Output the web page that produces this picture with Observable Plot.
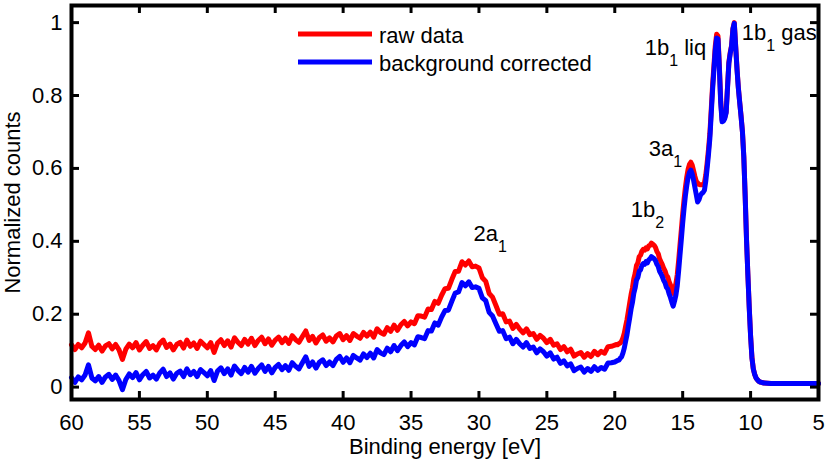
<!DOCTYPE html>
<html>
<head>
<meta charset="utf-8">
<script src="https://cdn.jsdelivr.net/npm/d3@7"></script>
<script src="https://cdn.jsdelivr.net/npm/@observablehq/plot@0.6"></script>
<style>
  html, body { margin: 0; padding: 0; background: white; }
  #wrap { position: relative; width: 825px; height: 462px; }
  #legend { position: absolute; left: 0; top: 0; pointer-events: none; }
</style>
</head>
<body>
<div id="wrap"></div>
<script>
// ---- Data ----
// Segment 1: 60 eV down to 20 eV, sampled every 0.25 eV
const rawSeg1 = [
0.116,0.103,0.117,0.108,0.121,0.149,0.112,0.103,0.115,0.099,
0.113,0.119,0.105,0.117,0.102,0.076,0.104,0.118,0.108,0.122,
0.102,0.115,0.125,0.106,0.114,0.102,0.120,0.129,0.109,0.118,
0.102,0.117,0.123,0.107,0.129,0.112,0.121,0.106,0.126,0.117,
0.108,0.122,0.095,0.121,0.130,0.114,0.127,0.110,0.135,0.123,
0.114,0.131,0.118,0.134,0.114,0.128,0.137,0.119,0.132,0.115,
0.129,0.137,0.122,0.134,0.120,0.141,0.130,0.123,0.139,0.154,
0.128,0.139,0.121,0.136,0.143,0.126,0.135,0.124,0.140,0.147,
0.130,0.141,0.128,0.147,0.140,0.134,0.150,0.140,0.151,0.137,
0.160,0.150,0.145,0.163,0.153,0.170,0.156,0.171,0.180,0.168,
0.179,0.174,0.196,0.195,0.192,0.214,0.213,0.235,0.230,0.252,
0.270,0.271,0.295,0.317,0.318,0.344,0.335,0.346,0.330,0.332,
0.327,0.300,0.290,0.257,0.247,0.224,0.200,0.201,0.179,0.181,
0.161,0.172,0.159,0.149,0.160,0.144,0.147,0.131,0.142,0.134,
0.122,0.131,0.115,0.119,0.103,0.111,0.097,0.104,0.085,0.091,
0.095,0.082,0.092,0.084,0.098,0.089,0.098,0.093,0.111,0.112,
0.115];
const corrSeg1 = [
0.026,0.013,0.028,0.020,0.033,0.061,0.025,0.017,0.029,0.013,
0.028,0.035,0.021,0.033,0.018,-0.007,0.021,0.036,0.026,0.040,
0.020,0.034,0.043,0.025,0.033,0.022,0.039,0.049,0.029,0.039,
0.022,0.038,0.044,0.029,0.050,0.034,0.043,0.029,0.048,0.040,
0.031,0.045,0.018,0.044,0.053,0.037,0.050,0.033,0.058,0.046,
0.037,0.054,0.041,0.057,0.038,0.051,0.061,0.043,0.057,0.039,
0.054,0.062,0.048,0.059,0.046,0.067,0.057,0.050,0.067,0.083,
0.057,0.069,0.052,0.068,0.075,0.059,0.069,0.059,0.076,0.084,
0.068,0.080,0.067,0.087,0.080,0.074,0.091,0.081,0.093,0.080,
0.103,0.094,0.089,0.107,0.097,0.114,0.100,0.114,0.124,0.111,
0.122,0.116,0.138,0.136,0.133,0.155,0.154,0.176,0.170,0.192,
0.210,0.211,0.235,0.258,0.261,0.287,0.278,0.289,0.273,0.275,
0.271,0.245,0.237,0.205,0.195,0.174,0.153,0.155,0.133,0.137,
0.119,0.131,0.119,0.110,0.122,0.106,0.110,0.094,0.105,0.097,
0.085,0.094,0.077,0.082,0.065,0.072,0.058,0.064,0.045,0.051,
0.055,0.041,0.051,0.043,0.056,0.046,0.054,0.049,0.066,0.067,
0.069];
// Segment 2: 19.9 eV down to 9.0 eV, sampled every 0.1 eV
const rawSeg2 = [
0.117,0.116,0.119,0.121,0.126,0.135,0.148,0.167,0.185,0.208,
0.231,0.254,0.272,0.297,0.312,0.334,0.341,0.358,0.362,0.373,
0.378,0.376,0.382,0.379,0.387,0.389,0.395,0.392,0.389,0.383,
0.372,0.366,0.352,0.344,0.336,0.326,0.319,0.307,0.302,0.289,
0.280,0.267,0.257,0.270,0.284,0.308,0.346,0.389,0.431,0.475,
0.514,0.548,0.576,0.598,0.611,0.617,0.609,0.594,0.578,0.565,
0.560,0.556,0.555,0.555,0.556,0.560,0.582,0.615,0.652,0.695,
0.760,0.827,0.881,0.936,0.968,0.963,0.882,0.786,0.733,0.734,
0.740,0.755,0.823,0.891,0.918,0.937,0.984,1.000,0.937,0.874,
0.821,0.781,0.743,0.701,0.633,0.526,0.406,0.309,0.219,0.141,
0.081,0.050,0.035,0.025,0.020,0.016,0.014,0.013,0.012,0.011];
const corrSeg2 = [
0.071,0.073,0.074,0.079,0.083,0.093,0.107,0.126,0.144,0.168,
0.190,0.214,0.232,0.257,0.272,0.294,0.301,0.318,0.322,0.334,
0.339,0.337,0.344,0.341,0.349,0.352,0.358,0.355,0.352,0.347,
0.337,0.331,0.318,0.311,0.303,0.293,0.286,0.274,0.269,0.256,
0.246,0.233,0.222,0.236,0.252,0.278,0.318,0.362,0.405,0.450,
0.490,0.525,0.553,0.576,0.589,0.595,0.585,0.568,0.548,0.528,
0.508,0.514,0.526,0.531,0.534,0.540,0.565,0.600,0.638,0.682,
0.748,0.815,0.870,0.925,0.958,0.955,0.875,0.780,0.728,0.730,
0.737,0.752,0.820,0.888,0.915,0.935,0.982,0.998,0.935,0.872,
0.820,0.780,0.742,0.700,0.632,0.525,0.405,0.308,0.218,0.140,
0.080,0.050,0.035,0.025,0.020,0.016,0.014,0.013,0.012,0.011];
// Segment 3: flat tail
const tailEnergy = [8.5, 8, 7, 6, 5];
const rawTail = [0.010, 0.010, 0.010, 0.010, 0.010];
const corrTail = [0.010, 0.010, 0.010, 0.010, 0.010];

const xTicks = [60, 55, 50, 45, 40, 35, 30, 25, 20, 15, 10, 5];
const yTicks = [0, 0.2, 0.4, 0.6, 0.8, 1];
const seriesNames = ["raw data", "background corrected"];
const seriesColors = ["#ff0000", "#0000ff"];
const annotations = [
  {E: 30.4, v: 0.401, label: "2a_1"},
  {E: 18.83, v: 0.466, label: "1b_2"},
  {E: 17.5, v: 0.633, label: "3a_1"},
  {E: 17.8, v: 0.912, label: "1b_1 liq"},
  {E: 10.65, v: 0.952, label: "1b_1 gas"}
];

// ---- Build tables ----
const grid1 = rawSeg1.map((_, i) => +(60 - 0.25 * i).toFixed(2));
const grid2 = rawSeg2.map((_, i) => +(19.9 - 0.1 * i).toFixed(2));
const energy = [...grid1, ...grid2, ...tailEnergy];
const rawAll = [...rawSeg1, ...rawSeg2, ...rawTail];
const corrAll = [...corrSeg1, ...corrSeg2, ...corrTail];
const rawData = energy.map((E, i) => ({E, v: rawAll[i]}));
const corrData = energy.map((E, i) => ({E, v: corrAll[i]}));

const W = 825, H = 462;
const mL = 71, mR = 7, mT = 5, mB = 63;
const innerW = W - mL - mR, innerH = H - mT - mB;
const tickLen = 8;
const font = "'Liberation Sans', Arial, Helvetica, sans-serif";

const chart = Plot.plot({
  width: W, height: H,
  marginLeft: mL, marginRight: mR, marginTop: mT, marginBottom: mB,
  style: {fontFamily: font, fontSize: "22px", color: "black", background: "white"},
  x: {domain: [60, 5]},
  y: {domain: [-0.034, 1.047]},
  marks: [
    Plot.line(rawData, {x: "E", y: "v", stroke: seriesColors[0], strokeWidth: 5, strokeLinejoin: "round", strokeLinecap: "round"}),
    Plot.line(corrData, {x: "E", y: "v", stroke: seriesColors[1], strokeWidth: 5, strokeLinejoin: "round", strokeLinecap: "round"}),
    // inward ticks on all four sides
    Plot.tickX(xTicks, {x: d => d, insetTop: innerH - tickLen, stroke: "black", strokeWidth: 3}),
    Plot.tickX(xTicks, {x: d => d, insetBottom: innerH - tickLen, stroke: "black", strokeWidth: 3}),
    Plot.tickY(yTicks, {y: d => d, insetRight: innerW - tickLen, stroke: "black", strokeWidth: 3}),
    Plot.tickY(yTicks, {y: d => d, insetLeft: innerW - tickLen, stroke: "black", strokeWidth: 3}),
    Plot.frame({stroke: "black", strokeWidth: 4}),
    Plot.axisX(xTicks, {tickSize: 0, tickPadding: 15, tickFormat: d => String(d), fontSize: 22, label: null}),
    Plot.axisY(yTicks, {tickSize: 0, tickPadding: 9, tickFormat: d => String(d), fontSize: 22, label: null}),
    Plot.text(["Binding energy [eV]"], {frameAnchor: "bottom", dy: 54, text: d => d, textAnchor: "middle", lineAnchor: "bottom", fontSize: 22, fill: "black"}),
    Plot.text(["Normalized counts"], {frameAnchor: "left", dx: -52, rotate: -90, text: d => d, textAnchor: "middle", lineAnchor: "bottom", fontSize: 22, fill: "black"}),
    Plot.text(annotations, {x: "E", y: "v", text: "label", textAnchor: "start", lineAnchor: "bottom", fontSize: 22, fill: "black"})
  ]
});

// subscripts
const ns = "http://www.w3.org/2000/svg";
chart.querySelectorAll("text").forEach(t => {
  if (t.children.length === 0 && t.textContent.includes("_")) {
    const parts = t.textContent.split(/_(\d)/);
    t.textContent = "";
    parts.forEach((p, i) => {
      if (p === "" ) return;
      const ts = document.createElementNS(ns, "tspan");
      ts.textContent = p;
      if (i % 2 === 1) { ts.setAttribute("font-size", "16"); ts.setAttribute("dy", "11"); }
      else if (i > 0) { ts.setAttribute("dy", "-11"); }
      t.appendChild(ts);
    });
    t.setAttribute("xml:space", "preserve");
  }
});

const wrap = document.getElementById("wrap");
wrap.appendChild(chart);

// legend overlay
const leg = document.createElementNS(ns, "svg");
leg.setAttribute("id", "legend");
leg.setAttribute("width", W); leg.setAttribute("height", H);
const legendRows = [{y: 34, base: 43}, {y: 62, base: 71}];
seriesNames.forEach((name, i) => {
  const ln = document.createElementNS(ns, "line");
  ln.setAttribute("x1", 298); ln.setAttribute("x2", 372);
  ln.setAttribute("y1", legendRows[i].y); ln.setAttribute("y2", legendRows[i].y);
  ln.setAttribute("stroke", seriesColors[i]); ln.setAttribute("stroke-width", 5);
  leg.appendChild(ln);
  const tx = document.createElementNS(ns, "text");
  tx.setAttribute("x", 379); tx.setAttribute("y", legendRows[i].base);
  tx.setAttribute("font-family", font); tx.setAttribute("font-size", 22);
  tx.textContent = name;
  leg.appendChild(tx);
});
wrap.appendChild(leg);
</script>
</body>
</html>
